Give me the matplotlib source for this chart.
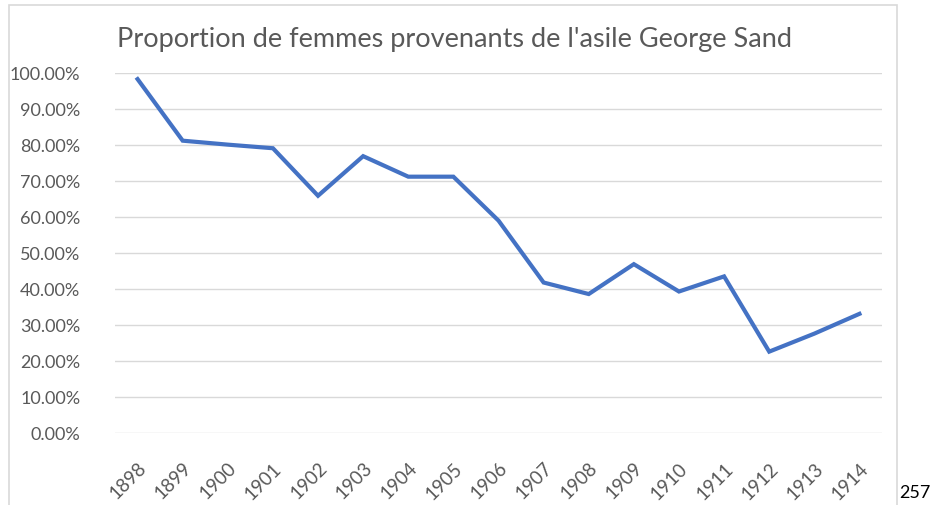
import matplotlib.pyplot as plt
from matplotlib.patches import Rectangle
from matplotlib.ticker import FuncFormatter
import matplotlib.transforms as mtransforms

years = ['1898', '1899', '1900', '1901', '1902', '1903', '1904', '1905', '1906',
         '1907', '1908', '1909', '1910', '1911', '1912', '1913', '1914']
proportion = [98.3, 81.2, 80.1, 79.1, 65.9, 76.9, 71.2, 71.2, 59.0,
              41.8, 38.6, 46.9, 39.3, 43.5, 22.6, 27.6, 33.1]
y_ticks = [0, 10, 20, 30, 40, 50, 60, 70, 80, 90, 100]

plt.rcParams['font.family'] = ['Lato', 'DejaVu Sans']
W, H = 930, 506
fig = plt.figure(figsize=(W / 100, H / 100), dpi=100)

# chart frame (Excel style)
fig.patches.append(Rectangle((9 / W, -0.01), (897 - 9) / W, (H - 6) / H + 0.01,
                             transform=fig.transFigure, fill=False,
                             edgecolor='#d9d9d9', linewidth=1.2))

ax = fig.add_axes([115 / W, (H - 434) / H, (882 - 115) / W, 360 / H])
x = list(range(len(years)))
ax.plot(x, proportion, color='#4472C4', linewidth=3, solid_joinstyle='miter')

ax.set_xlim(-0.5, len(years) - 0.5)
ax.set_ylim(0, 100)
ax.set_yticks(y_ticks)
ax.yaxis.set_major_formatter(FuncFormatter(lambda v, p: f'{v:.2f}%'))
ax.grid(axis='y', color='#d9d9d9', linewidth=1)
ax.set_axisbelow(True)
for s in ax.spines.values():
    s.set_visible(False)
ax.tick_params(axis='y', length=0, pad=25, labelsize=13, labelcolor='#595959')
ax.tick_params(axis='x', length=0, pad=12, labelsize=13.5, labelcolor='#595959')

ax.set_xticks(x)
ax.set_xticklabels(years, rotation=45, ha='right', rotation_mode='anchor')
offset = mtransforms.ScaledTranslation(0, -9 / 100, fig.dpi_scale_trans)
for lbl in ax.get_xticklabels():
    lbl.set_transform(lbl.get_transform() + offset)

fig.text(454 / W, 1 - 40 / H, "Proportion de femmes provenants de l'asile George Sand",
         ha='center', va='center', fontsize=19.5, color='#595959')
fig.text(899 / W, 1 - 493 / H, '257', ha='left', va='center', fontsize=13, color='black')

fig.savefig('out.png', dpi=100)
